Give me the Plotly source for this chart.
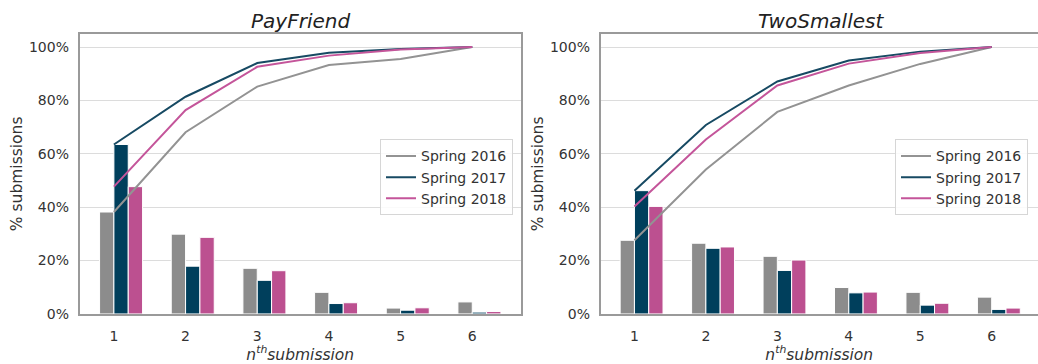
import plotly.graph_objects as go

# n-th submission index
submissions = [1, 2, 3, 4, 5, 6]
terms = ["Spring 2016", "Spring 2017", "Spring 2018"]

# Share of submissions made at each attempt (%), PayFriend
payfriend_2016 = [38.2, 29.9, 17.1, 8.1, 2.2, 4.5]
payfriend_2017 = [63.5, 17.9, 12.6, 3.9, 1.4, 0.7]
payfriend_2018 = [47.7, 28.7, 16.2, 4.2, 2.3, 0.9]

# Cumulative share of submissions (%), PayFriend
payfriend_cum_2016 = [38.2, 68.1, 85.2, 93.3, 95.5, 100.0]
payfriend_cum_2017 = [63.5, 81.4, 94.0, 97.9, 99.3, 100.0]
payfriend_cum_2018 = [47.7, 76.4, 92.6, 96.8, 99.1, 100.0]

# Share of submissions made at each attempt (%), TwoSmallest
twosmallest_2016 = [27.6, 26.5, 21.6, 9.9, 8.1, 6.3]
twosmallest_2017 = [46.2, 24.6, 16.3, 7.9, 3.3, 1.7]
twosmallest_2018 = [40.3, 25.1, 20.2, 8.2, 4.0, 2.2]

# Cumulative share of submissions (%), TwoSmallest
twosmallest_cum_2016 = [27.6, 54.1, 75.7, 85.6, 93.7, 100.0]
twosmallest_cum_2017 = [46.2, 70.8, 87.1, 95.0, 98.3, 100.0]
twosmallest_cum_2018 = [40.3, 65.4, 85.6, 93.8, 97.8, 100.0]

y_ticks = [0, 20, 40, 60, 80, 100]
y_tick_labels = ["0%", "20%", "40%", "60%", "80%", "100%"]

bar_colors = ["#8c8c8c", "#003f5c", "#bc5090"]
line_colors = ["#939393", "#174a63", "#c4559a"]
bar_offsets = [-0.2, 0.0, 0.2]
BAR_W = 0.2

W, H = 1038, 364
FONT = "DejaVu Sans"
TEXT = "#333333"
SPINE = "#9a9a9a"
GRID = "#dcdcdc"

panels = [
    dict(title="PayFriend",
         bars=[payfriend_2016, payfriend_2017, payfriend_2018],
         cums=[payfriend_cum_2016, payfriend_cum_2017, payfriend_cum_2018],
         x_px=(79.5, 521.0), xrange=[0.52, 6.68], legend="legend"),
    dict(title="TwoSmallest",
         bars=[twosmallest_2016, twosmallest_2017, twosmallest_2018],
         cums=[twosmallest_cum_2016, twosmallest_cum_2017, twosmallest_cum_2018],
         x_px=(600.5, 1038.0), xrange=[0.525, 6.648], legend="legend2"),
]

y_top_px, y_bot_px = 34.5, 321.0
y_domain = [(H - y_bot_px) / H, (H - y_top_px) / H]

fig = go.Figure()
layout = dict(
    width=W, height=H,
    margin=dict(l=0, r=0, t=0, b=0),
    paper_bgcolor="white", plot_bgcolor="white",
    font=dict(family=FONT, size=14, color=TEXT),
    barmode="overlay",
    annotations=[],
)

for i, p in enumerate(panels):
    n = "" if i == 0 else str(i + 1)
    xa, ya = "x" + n, "y" + n
    for k in range(3):
        fig.add_trace(go.Bar(
            x=submissions, y=p["bars"][k], width=BAR_W, offset=bar_offsets[k],
            marker=dict(color=bar_colors[k], line=dict(color="white", width=1)),
            xaxis=xa, yaxis=ya, showlegend=False, hoverinfo="skip",
        ))
    for k in range(3):
        fig.add_trace(go.Scatter(
            x=submissions, y=p["cums"][k], mode="lines", name=terms[k],
            line=dict(color=line_colors[k], width=2),
            xaxis=xa, yaxis=ya, legend=p["legend"],
        ))

    x0, x1 = p["x_px"]
    dom = [x0 / W, min(x1 / W, 1.0)]
    layout["xaxis" + n] = dict(
        domain=dom, range=p["xrange"], anchor=ya,
        tickmode="array", tickvals=submissions, ticktext=[str(s) for s in submissions],
        showgrid=False, zeroline=False,
        showline=True, linecolor=SPINE, linewidth=1.5, mirror=True,
        ticks="", ticklabelstandoff=9,
        tickfont=dict(size=14, color=TEXT),
        title=dict(text="<i>n<sup>th</sup>submission</i>", standoff=3,
                   font=dict(size=15.5, color=TEXT)),
    )
    layout["yaxis" + n] = dict(
        domain=y_domain, range=[0, 105], anchor=xa,
        tickmode="array", tickvals=y_ticks, ticktext=y_tick_labels,
        showgrid=True, gridcolor=GRID, gridwidth=1, zeroline=False,
        showline=True, linecolor=SPINE, linewidth=1.5, mirror=(i == 0),
        ticks="", ticklabelstandoff=6,
        tickfont=dict(size=14, color=TEXT),
        title=dict(text="% submissions", standoff=2, font=dict(size=15.5, color=TEXT)),
    )
    layout["annotations"].append(dict(
        text="<i>" + p["title"] + "</i>", xref="paper", yref="paper",
        x=(x0 + (1042.0 if i else x1)) / 2 / W, y=(H - 21) / H,
        xanchor="center", yanchor="middle", showarrow=False,
        font=dict(size=20, color="#222222", family=FONT),
    ))
    layout[p["legend"]] = dict(
        x=(513.0 if i == 0 else 1028.0) / W, xanchor="right",
        y=(H - 142.5) / H, yanchor="top",
        bgcolor="rgba(255,255,255,0.85)", bordercolor="#d6d6d6", borderwidth=1,
        font=dict(size=14, color=TEXT, family=FONT),
    )

fig.update_layout(**layout)
fig.write_html("out.html")
